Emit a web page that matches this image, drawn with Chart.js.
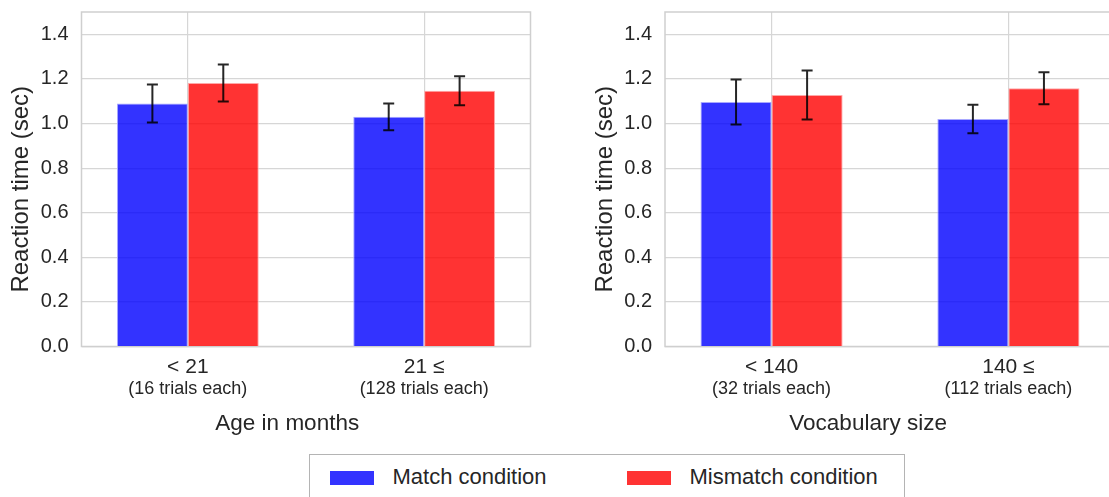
<!DOCTYPE html>
<html>
<head>
<meta charset="utf-8">
<script src="https://cdn.jsdelivr.net/npm/chart.js@4/dist/chart.umd.min.js"></script>
<style>
  html, body { margin: 0; padding: 0; background: #fff; width: 1109px; height: 497px; overflow: hidden; }
  body { position: relative; font-family: "Liberation Sans", Arial, sans-serif; color: #262626; }
  #ageChart { position: absolute; left: 0; top: 0; }
  #vocabWrap { position: absolute; left: 560px; top: 0; width: 549px; height: 450px; overflow: hidden; }
  #vocabChart { position: absolute; left: 0; top: 0; }
  #legend { position: absolute; left: 309px; top: 454px; width: 596px; height: 70px;
            border: 1.5px solid #b4b4b4; box-sizing: border-box; background: #fff; }
  .swatch { position: absolute; top: 15.5px; width: 44px; height: 14px; }
  .label { position: absolute; top: 9px; font-size: 22px; line-height: 26px; white-space: nowrap; }
</style>
</head>
<body>
<canvas id="ageChart" width="560" height="445"></canvas>
<div id="vocabWrap"><canvas id="vocabChart" width="600" height="445"></canvas></div>
<div id="legend"></div>
<script>
// Reaction time by age group and by vocabulary size, match vs. mismatch trials.
const seriesNames = ['Match condition', 'Mismatch condition'];
const seriesColors = ['rgba(0, 0, 255, 0.8)', 'rgba(255, 0, 0, 0.8)'];
const seriesEdges = ['#a8a8ff', '#ffa8a8'];

const ageGroups = ['< 21', '21 \u2264'];
const ageTrials = ['(16 trials each)', '(128 trials each)'];
const ageMatch = [1.09, 1.03];
const ageMatchErr = [0.085, 0.06];
const ageMismatch = [1.182, 1.147];
const ageMismatchErr = [0.083, 0.065];

const vocabGroups = ['< 140', '140 \u2264'];
const vocabTrials = ['(32 trials each)', '(112 trials each)'];
const vocabMatch = [1.096, 1.02];
const vocabMatchErr = [0.101, 0.064];
const vocabMismatch = [1.128, 1.158];
const vocabMismatchErr = [0.11, 0.072];

const yTicks = [0, 0.2, 0.4, 0.6, 0.8, 1.0, 1.2, 1.4];

const FONT = '"Liberation Sans", Arial, sans-serif';
const TEXT = '#262626';
const GRID = '#d6d6d6';

// Light frame around the plot area
const framePlugin = {
  id: 'frame',
  beforeDatasetsDraw(chart) {
    const { ctx, chartArea: a } = chart;
    ctx.save();
    ctx.strokeStyle = '#cfcfcf';
    ctx.lineWidth = 1.5;
    ctx.strokeRect(a.left, a.top, a.right - a.left, a.bottom - a.top);
    ctx.restore();
  }
};

// Symmetric error bars with caps, drawn on top of each bar
const errorBarPlugin = {
  id: 'errorBars',
  afterDatasetsDraw(chart) {
    const { ctx } = chart;
    const yScale = chart.scales.y;
    ctx.save();
    ctx.strokeStyle = 'rgba(0,0,0,0.85)';
    ctx.lineWidth = 2;
    chart.data.datasets.forEach((ds, i) => {
      const meta = chart.getDatasetMeta(i);
      meta.data.forEach((bar, j) => {
        const v = ds.data[j].y;
        const e = ds.errors[j];
        const yHi = yScale.getPixelForValue(v + e);
        const yLo = yScale.getPixelForValue(v - e);
        const cap = 5.5;
        ctx.beginPath();
        ctx.moveTo(bar.x, yHi); ctx.lineTo(bar.x, yLo);
        ctx.moveTo(bar.x - cap, yHi); ctx.lineTo(bar.x + cap, yHi);
        ctx.moveTo(bar.x - cap, yLo); ctx.lineTo(bar.x + cap, yLo);
        ctx.stroke();
      });
    });
    ctx.restore();
  }
};

function makeChart(canvasId, groups, trials, match, matchErr, mismatch, mismatchErr, xTitle, padLeft, padRight) {
  const positions = groups.map((_, i) => i);
  const groupTicks = scale => { scale.ticks = positions.map(v => ({ value: v })); };
  return new Chart(document.getElementById(canvasId), {
    type: 'bar',
    data: {
      datasets: [
        { label: seriesNames[0], data: match.map((v, i) => ({ x: positions[i], y: v })), errors: matchErr,
          backgroundColor: seriesColors[0], borderColor: seriesEdges[0], borderWidth: 1,
          categoryPercentage: 0.6, barPercentage: 1.0, xAxisID: 'x', yAxisID: 'y' },
        { label: seriesNames[1], data: mismatch.map((v, i) => ({ x: positions[i], y: v })), errors: mismatchErr,
          backgroundColor: seriesColors[1], borderColor: seriesEdges[1], borderWidth: 1,
          categoryPercentage: 0.6, barPercentage: 1.0, xAxisID: 'x', yAxisID: 'y' }
      ]
    },
    options: {
      responsive: false,
      animation: false,
      layout: { padding: { left: padLeft, right: padRight, top: 12, bottom: 3.5 } },
      plugins: { legend: { display: false }, tooltip: { enabled: false } },
      scales: {
        x: {
          type: 'linear', position: 'bottom', weight: 0, min: -0.45, max: 1.45, offset: false,
          afterBuildTicks: groupTicks,
          afterFit: s => { s.height = 31; },
          ticks: { callback: v => groups[v], font: { family: FONT, size: 21 }, color: TEXT,
                   padding: 8, maxRotation: 0, autoSkip: false },
          grid: { color: GRID, lineWidth: 1.2, drawTicks: false, offset: false },
          border: { display: false }
        },
        x2: {
          type: 'linear', position: 'bottom', weight: 1, min: -0.45, max: 1.45, offset: false,
          afterBuildTicks: groupTicks,
          afterFit: s => { s.height = 64; },
          ticks: { callback: v => trials[v], font: { family: FONT, size: 18 }, color: TEXT,
                   padding: 1, maxRotation: 0, autoSkip: false },
          grid: { display: false, drawTicks: false, offset: false },
          border: { display: false },
          title: { display: true, text: xTitle, font: { family: FONT, size: 22.5 }, color: TEXT,
                   padding: { top: 0, bottom: 4 } }
        },
        y: {
          min: 0, max: 1.5,
          afterBuildTicks: s => { s.ticks = yTicks.map(v => ({ value: v })); },
          afterFit: s => { s.width = 81.5; s.paddingTop = 0; s.paddingBottom = 0; },
          ticks: { callback: v => v.toFixed(1), font: { family: FONT, size: 20 }, color: TEXT, padding: 13 },
          grid: { color: GRID, lineWidth: 1.2, drawTicks: false },
          border: { display: false },
          title: { display: true, text: 'Reaction time (sec)   ', font: { family: FONT, size: 24 }, color: TEXT,
                   padding: { top: 7, bottom: 0 } }
        }
      }
    },
    plugins: [framePlugin, errorBarPlugin]
  });
}

// The axis titles sit a little off the plot centre; trailing spaces shift them.
makeChart('ageChart', ageGroups, ageTrials, ageMatch, ageMatchErr, ageMismatch, ageMismatchErr,
          'Age in months      ', 0, 29.5);
makeChart('vocabChart', vocabGroups, vocabTrials, vocabMatch, vocabMatchErr, vocabMismatch, vocabMismatchErr,
          'Vocabulary size       ', 23.5, 45);

// Shared legend below both panels
const legend = document.getElementById('legend');
const swatchLeft = [19.5, 316.5];
const labelLeft = [82.5, 379.5];
seriesNames.forEach((name, i) => {
  const sw = document.createElement('div');
  sw.className = 'swatch';
  sw.style.left = swatchLeft[i] + 'px';
  sw.style.background = seriesColors[i];
  legend.appendChild(sw);
  const lb = document.createElement('div');
  lb.className = 'label';
  lb.style.left = labelLeft[i] + 'px';
  lb.textContent = name;
  legend.appendChild(lb);
});
</script>
</body>
</html>
